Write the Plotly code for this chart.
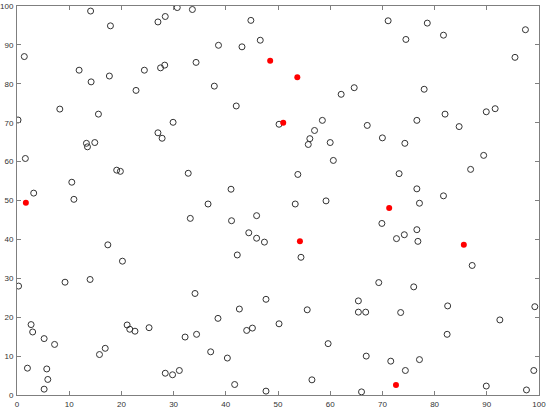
import plotly.graph_objects as go

# open circles (data coords)
x_open = [14.1, 30.7, 28.4, 27.0, 17.9, 1.4, 11.9, 28.3, 27.5, 24.4, 14.2, 17.7, 22.8, 8.2, 0.2,
          15.6, 29.9, 27.0, 27.8, 13.3, 13.5, 14.9, 1.6, 19.1, 19.8, 32.8, 10.5, 3.2, 10.9,
          33.6, 44.8, 38.6, 43.1, 46.6, 34.3, 37.8, 62.1, 64.6, 42.0, 50.2, 58.5, 67.1, 57.0,
          56.1, 55.8, 60.0, 60.6, 53.8, 41.0, 36.6, 53.3, 59.2,
          71.1, 78.6, 74.5, 81.7, 97.4, 95.4, 78.0, 82.0, 76.6, 89.9, 91.6, 84.7, 70.0, 74.3,
          89.4, 86.9, 73.2, 76.6, 81.7, 77.1,
          33.2, 17.4, 20.2, 0.3, 9.2, 14.0, 2.7, 3.0, 21.1, 21.6, 22.6, 25.3, 5.2, 7.2, 16.9,
          15.8, 2.0, 5.7, 5.9, 5.2, 32.2, 28.4, 29.8, 31.1,
          41.1, 45.9, 44.4, 45.9, 47.4, 54.4, 42.2, 34.1, 47.7, 65.4, 42.6, 55.6, 65.4, 66.8,
          38.5, 50.2, 44.0, 45.1, 34.4, 37.1, 40.3, 59.6, 66.9, 41.7, 47.7, 56.5, 66.0,
          69.9, 72.7, 74.2, 76.6, 76.8, 87.2, 69.3, 76.0, 73.5, 82.5, 99.2, 92.5, 82.4, 71.6,
          77.1, 74.4, 99.0, 89.9, 97.6]
y_open = [98.7, 99.6, 97.3, 95.9, 94.9, 87.0, 83.5, 84.8, 84.1, 83.5, 80.5, 82.0, 78.3, 73.5, 70.7,
          72.2, 70.1, 67.4, 66.0, 64.7, 63.8, 64.9, 60.8, 57.8, 57.5, 57.0, 54.7, 51.9, 50.3,
          99.1, 96.3, 89.9, 89.5, 91.2, 85.5, 79.4, 77.3, 79.0, 74.3, 69.6, 70.6, 69.3, 68.0,
          65.9, 64.4, 64.9, 60.3, 56.7, 52.9, 49.1, 49.1, 49.9,
          96.2, 95.6, 91.4, 92.5, 93.9, 86.8, 78.6, 72.2, 70.6, 72.8, 73.6, 69.0, 66.1, 64.7,
          61.6, 58.0, 56.9, 53.0, 51.2, 49.3,
          45.4, 38.6, 34.4, 28.0, 29.0, 29.7, 18.1, 16.2, 18.0, 16.9, 16.4, 17.3, 14.5, 13.0, 12.0,
          10.4, 6.9, 6.7, 4.0, 1.5, 14.9, 5.6, 5.2, 6.3,
          44.8, 46.1, 41.7, 40.3, 39.3, 35.4, 36.0, 26.1, 24.6, 24.2, 22.1, 21.9, 21.3, 21.3,
          19.7, 18.3, 16.6, 17.2, 15.6, 11.1, 9.5, 13.2, 10.0, 2.7, 1.0, 3.9, 0.8,
          44.1, 40.2, 41.2, 42.5, 39.5, 33.3, 28.9, 27.8, 21.2, 22.9, 22.7, 19.3, 15.6, 8.7,
          9.1, 6.3, 6.3, 2.3, 1.3]

# filled red points
x_red = [1.7, 48.5, 53.7, 51.0, 71.3, 54.2, 85.6, 72.6]
y_red = [49.4, 85.9, 81.7, 70.0, 48.1, 39.5, 38.6, 2.6]

tick_vals = list(range(0, 101, 10))

fig = go.Figure()

fig.add_trace(go.Scatter(x=x_open, y=y_open, mode='markers',
                         marker=dict(symbol='circle-open', size=6, color='#333333',
                                     line=dict(width=1, color='#333333'))))
fig.add_trace(go.Scatter(x=x_red, y=y_red, mode='markers',
                         marker=dict(symbol='circle', size=6, color='#ff0000')))

axis_style = dict(range=[0, 100], tickvals=tick_vals, ticks='inside', ticklen=4,
                  tickcolor='#7f7f7f', showline=True, linecolor='#7f7f7f', linewidth=1,
                  mirror='ticks', showgrid=False, zeroline=False, automargin=False,
                  tickfont=dict(family='Liberation Sans, Arial', size=8, color='#333333'))

fig.update_layout(width=550, height=411, showlegend=False,
                  margin=dict(l=17, r=11, t=6, b=16),
                  paper_bgcolor='white', plot_bgcolor='white',
                  xaxis=dict(axis_style, ticklabelstandoff=1),
                  yaxis=dict(axis_style, ticklabelstandoff=1))

# drop the default 8px page margin so the figure sits at the window corner
fig.write_html("out.html", config={'displayModeBar': False},
               post_script="document.body.style.margin='0';")
